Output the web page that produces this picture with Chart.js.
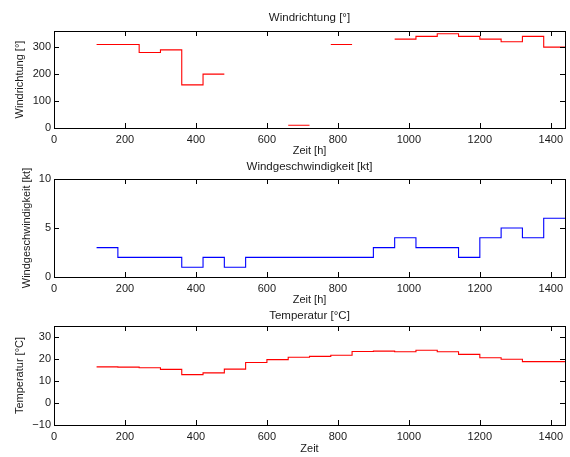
<!DOCTYPE html>
<html>
<head>
<meta charset="utf-8">
<script src="https://cdn.jsdelivr.net/npm/chart.js@4/dist/chart.umd.min.js"></script>
<style>
  body { margin: 0; background: #fff; }
  #wrap { position: relative; width: 570px; height: 457px; }
  canvas { position: absolute; left: 0; }
</style>
</head>
<body>
<div id="wrap">
  <canvas id="dirChart" width="570" height="160" style="top:0"></canvas>
  <canvas id="speedChart" width="570" height="160" style="top:150px"></canvas>
  <canvas id="tempChart" width="570" height="157" style="top:300px"></canvas>
</div>
<script>
// start hour of each 60 h bin
const hours = [120, 180, 240, 300, 360, 420, 480, 540, 600, 660, 720, 780, 840, 900, 960, 1020, 1080, 1140, 1200, 1260, 1320, 1380];
const binWidth = 60;

const windDir = [310, 310, 280, 290, 160, 200, null, null, null, 10, null, 310, null, null, 330, 340, 350, 340, 330, 320, 340, 300];
const windSpeed = [3, 2, 2, 2, 1, 2, 1, 2, 2, 2, 2, 2, 2, 3, 4, 3, 3, 2, 4, 5, 4, 6];
const temperature = [16.4, 16.3, 16.0, 15.3, 12.9, 13.7, 15.4, 18.4, 19.7, 20.8, 21.2, 21.7, 23.4, 23.6, 23.3, 24.0, 23.3, 22.1, 20.6, 19.9, 18.8, 18.8];

const xTicks = [0, 200, 400, 600, 800, 1000, 1200, 1400];
const dirTicks = [0, 100, 200, 300];
const speedTicks = [0, 5, 10];
const tempTicks = [-10, 0, 10, 20, 30];

const FONT = { family: '"Liberation Sans", Arial, Helvetica, sans-serif', size: 11 };
const TITLE_FONT = { ...FONT, size: 11.5 };
const TEXT = '#1a1a1a';

// each bin becomes a flat segment; null leaves a gap
function toSteps(values) {
  const pts = [];
  values.forEach((v, i) => {
    if (v === null) {
      pts.push({ x: hours[i], y: null });
    } else {
      pts.push({ x: hours[i], y: v });
      pts.push({ x: hours[i] + binWidth, y: v });
    }
  });
  return pts;
}

// MATLAB-like box with inward ticks on all four sides
const boxTicks = {
  id: 'boxTicks',
  afterDraw(chart) {
    const { ctx, chartArea: a, scales } = chart;
    const len = 5;
    ctx.save();
    ctx.strokeStyle = '#000';
    ctx.lineWidth = 1;
    ctx.beginPath();
    scales.x.ticks.forEach((t) => {
      const px = Math.round(scales.x.getPixelForValue(t.value)) + 0.5;
      ctx.moveTo(px, a.bottom); ctx.lineTo(px, a.bottom - len);
      ctx.moveTo(px, a.top); ctx.lineTo(px, a.top + len);
    });
    scales.y.ticks.forEach((t) => {
      const py = Math.round(scales.y.getPixelForValue(t.value)) + 0.5;
      ctx.moveTo(a.left, py); ctx.lineTo(a.left + len, py);
      ctx.moveTo(a.right, py); ctx.lineTo(a.right - len, py);
    });
    ctx.stroke();
    ctx.strokeRect(Math.round(a.left) + 0.5, Math.round(a.top) + 0.5, Math.round(a.right - a.left), Math.round(a.bottom - a.top));
    ctx.restore();
  }
};

function makeChart(id, cfg) {
  return new Chart(document.getElementById(id), {
    type: 'line',
    data: {
      datasets: [{
        data: toSteps(cfg.values),
        borderColor: cfg.color,
        borderWidth: 1.1,
        pointRadius: 0,
        spanGaps: false,
        tension: 0
      }]
    },
    options: {
      responsive: false,
      animation: false,
      layout: { padding: { left: 0, right: 5, top: 0, bottom: 0 } },
      plugins: {
        legend: { display: false },
        tooltip: { enabled: false },
        title: { display: false }
      },
      scales: {
        x: {
          type: 'linear',
          min: 0,
          max: 1440,
          grid: { display: false, drawTicks: false },
          border: { display: false },
          ticks: { color: TEXT, font: FONT, padding: 5, maxRotation: 0, callback: (v) => String(v) },
          afterBuildTicks: (s) => { s.ticks = xTicks.map((v) => ({ value: v })); },
          afterFit: (s) => { s.height = cfg.bottomBand; },
          title: { display: true, text: cfg.xTitle, color: TEXT, font: FONT, padding: { top: 0, bottom: cfg.xTitlePad } }
        },
        // top axis only carries the plot title, centred over the axes
        top: {
          type: 'linear',
          position: 'top',
          min: 0,
          max: 1440,
          grid: { display: false, drawTicks: false },
          border: { display: false },
          ticks: { display: false },
          afterFit: (s) => { s.height = cfg.topBand; },
          title: { display: true, text: cfg.title, color: TEXT, font: TITLE_FONT, padding: { top: cfg.titlePad, bottom: 0 } }
        },
        y: {
          min: cfg.min,
          max: cfg.max,
          grid: { display: false, drawTicks: false },
          border: { display: false },
          ticks: {
            color: TEXT,
            font: FONT,
            padding: 3,
            callback: (v) => String(v).replace('-', '\u2212')
          },
          afterBuildTicks: (s) => { s.ticks = cfg.ticks.map((v) => ({ value: v })); },
          afterFit: (s) => { s.width = 54; },
          title: { display: true, text: cfg.yTitle, color: TEXT, font: FONT, padding: { top: cfg.yTitlePad, bottom: 0 } }
        }
      }
    },
    plugins: [boxTicks]
  });
}

makeChart('dirChart', {
  values: windDir, color: '#ff0000', min: 0, max: 360, ticks: dirTicks,
  title: 'Windrichtung [°]', xTitle: 'Zeit [h]', yTitle: 'Windrichtung [°]',
  topBand: 31, titlePad: 11, bottomBand: 32, xTitlePad: 2, yTitlePad: 13.5
});

makeChart('speedChart', {
  values: windSpeed, color: '#0000ff', min: 0, max: 10, ticks: speedTicks,
  title: 'Windgeschwindigkeit [kt]', xTitle: 'Zeit [h]', yTitle: 'Windgeschwindigkeit [kt]',
  topBand: 29, titlePad: 10, bottomBand: 33, xTitlePad: 3, yTitlePad: 20
});

makeChart('tempChart', {
  values: temperature, color: '#ff0000', min: -10, max: 35, ticks: tempTicks,
  title: 'Temperatur [°C]', xTitle: 'Zeit', yTitle: 'Temperatur [°C]',
  topBand: 26, titlePad: 9, bottomBand: 32, xTitlePad: 1, yTitlePad: 13
});
</script>
</body>
</html>
